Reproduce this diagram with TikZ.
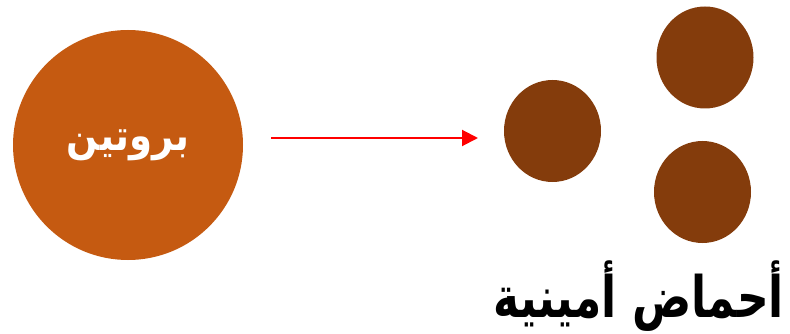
\documentclass[tikz,border=0pt]{standalone}
\usepackage{fontspec}
\newfontfamily\arabicfont[Script=Arabic]{DejaVu Sans}
\TeXXeTstate=1
\usetikzlibrary{arrows.meta,shapes.geometric}
\definecolor{proteincolor}{HTML}{C55A11}
\definecolor{aminocolor}{HTML}{843C0C}
\tikzset{
  amino/.style={ellipse, fill=aminocolor, minimum width=97pt, minimum height=102pt, inner sep=0pt},
}
\begin{document}
\begin{tikzpicture}[x=1pt,y=-1pt]
    \useasboundingbox (0,0) rectangle (790,334);
    % Proteina
    \node[circle, fill=proteincolor, minimum size=230pt, inner sep=0pt,
          text=white, font=\arabicfont\bfseries\fontsize{37}{44}\selectfont]
        (protein) at (128,145) {\scalebox{1}[1.15]{\beginR بروتين\endR}};
    % Acidos aminados
    \node[amino] (amino1) at (552.5,131) {};
    \node[amino] (amino2) at (705,57.5) {};
    \node[amino] (amino3) at (702.5,192) {};
    % Flecha
    \coordinate (arrowstart) at (271,138);
    \coordinate (arrowend) at (478,138);
    \draw[red, line width=2pt, -{Triangle[length=16pt,width=16pt]}]
        (arrowstart) -- (arrowend);
    % Etiqueta
    \node[font=\arabicfont\bfseries\fontsize{44}{52}\selectfont, anchor=center]
        (aminolabel) at (639,296) {\scalebox{1}[1.3]{\beginR أحماض أمينية\endR}};
\end{tikzpicture}
\end{document}
